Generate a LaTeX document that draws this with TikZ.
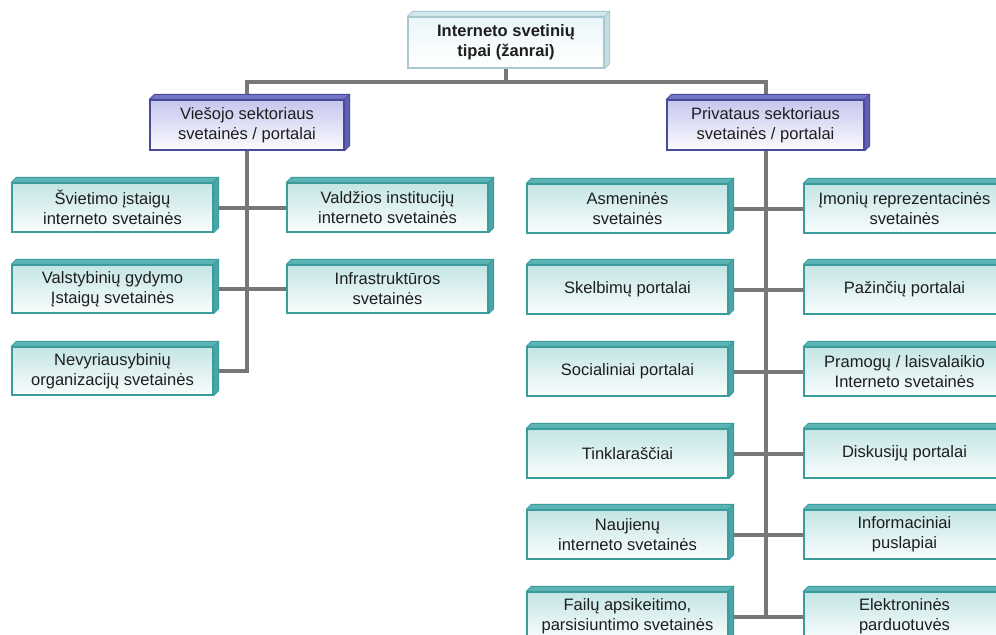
\documentclass[tikz,border=0pt]{standalone}
\usepackage{fontspec}
\setmainfont{Liberation Sans}
\usetikzlibrary{fit,backgrounds}
\definecolor{tlE}{HTML}{3A9C9C}
\definecolor{tlU}{HTML}{5DB4B4}
\definecolor{tlR}{HTML}{4AA6A6}
\definecolor{tlT}{HTML}{C4E5E5}
\definecolor{tlB}{HTML}{FAFDFD}
\definecolor{puE}{HTML}{4A4A9C}
\definecolor{puU}{HTML}{7474C6}
\definecolor{puR}{HTML}{6262B4}
\definecolor{puT}{HTML}{C6C6EE}
\definecolor{puB}{HTML}{FBFBFF}
\definecolor{tpE}{HTML}{A9C8D0}
\definecolor{tpU}{HTML}{D3E8EC}
\definecolor{tpR}{HTML}{C4DEE4}
\definecolor{tpT}{HTML}{EAF6F8}
\definecolor{tpB}{HTML}{FFFFFF}
\definecolor{connC}{HTML}{777777}
\definecolor{txtC}{HTML}{1E1E1E}
\newcommand\mybox[7]{%
  \node[boxbase, draw=#1E, top color=#1T, bottom color=#1B, fit={(#3,#4)(#5,#6)}] (#2) {};
  \filldraw[draw=#1E, fill=#1U, line width=0.7pt, line join=round]
    (#2.north west) -- ++(5,-5) -- ([shift={(5,-5)}]#2.north east) -- (#2.north east) -- cycle;
  \filldraw[draw=#1E, fill=#1R, line width=0.7pt, line join=round]
    (#2.north east) -- ([shift={(5,-5)}]#2.north east) -- ([shift={(5,-5)}]#2.south east) -- (#2.south east) -- cycle;
  \node[boxtext] (#2-t) at (#2.center) {#7};
}
\tikzset{
  boxbase/.style={line width=1pt, inner sep=0pt},
  boxtext/.style={inner sep=0pt, align=center, text=txtC,
    font=\fontsize{12.4pt}{15pt}\selectfont},
  conn/.style={draw=connC, line width=3pt}
}
\begin{document}
\begin{tikzpicture}[x=0.75pt,y=-0.75pt]
\useasboundingbox (0,0) rectangle (996,635);
\clip (0,0) rectangle (996,635);
% top
\mybox{tp}{top}{408}{17}{604}{68}{\bfseries Interneto svetinių\\\bfseries tipai (žanrai)}
\mybox{pu}{pub}{150}{100}{344}{150}{Viešojo sektoriaus\\svetainės / portalai}
\mybox{pu}{priv}{667}{100}{864}{150}{Privataus sektoriaus\\svetainės / portalai}
% public sector
\mybox{tl}{L1}{12}{183}{213}{232}{Švietimo įstaigų\\interneto svetainės}
\mybox{tl}{L2}{12}{265}{213}{313}{Valstybinių gydymo\\Įstaigų svetainės}
\mybox{tl}{L3}{12}{347}{213}{395}{Nevyriausybinių\\organizacijų svetainės}
\mybox{tl}{M1}{287}{183}{488}{232}{Valdžios institucijų\\interneto svetainės}
\mybox{tl}{M2}{287}{265}{488}{313}{Infrastruktūros\\svetainės}
% private sector
\mybox{tl}{A1}{527}{184}{728}{233}{Asmeninės\\svetainės}
\mybox{tl}{B1}{804}{184}{1005}{233}{Įmonių reprezentacinės\\svetainės}
\mybox{tl}{A2}{527}{265}{728}{314}{Skelbimų portalai}
\mybox{tl}{B2}{804}{265}{1005}{314}{Pažinčių portalai}
\mybox{tl}{A3}{527}{347}{728}{396}{Socialiniai portalai}
\mybox{tl}{B3}{804}{347}{1005}{396}{Pramogų / laisvalaikio\\Interneto svetainės}
\mybox{tl}{A4}{527}{429}{728}{478}{Tinklaraščiai}
\mybox{tl}{B4}{804}{429}{1005}{478}{Diskusijų portalai}
\mybox{tl}{A5}{527}{510}{728}{559}{Naujienų\\interneto svetainės}
\mybox{tl}{B5}{804}{510}{1005}{559}{Informaciniai\\puslapiai}
\mybox{tl}{A6}{527}{592}{728}{641}{Failų apsikeitimo,\\parsisiuntimo svetainės}
\mybox{tl}{B6}{804}{592}{1005}{641}{Elektroninės\\parduotuvės}
\coordinate (hub) at (506,82);
\begin{pgfonlayer}{background}
\fill[white] (0,0) rectangle (996,635);
\draw[conn] (top.south) -- (hub);
\draw[conn] (pub.north) |- (hub) -| (priv.north);
\draw[conn] (pub.south) -- (pub.south |- L3.east) -- (L3.east);
\draw[conn] (L1.east) -- (M1.west);
\draw[conn] (L2.east) -- (M2.west);
\draw[conn] (priv.south) -- (priv.south |- A6.east);
\foreach \i in {1,...,6}{\draw[conn] (A\i.east) -- (B\i.west);}
\end{pgfonlayer}
\end{tikzpicture}
\end{document}
